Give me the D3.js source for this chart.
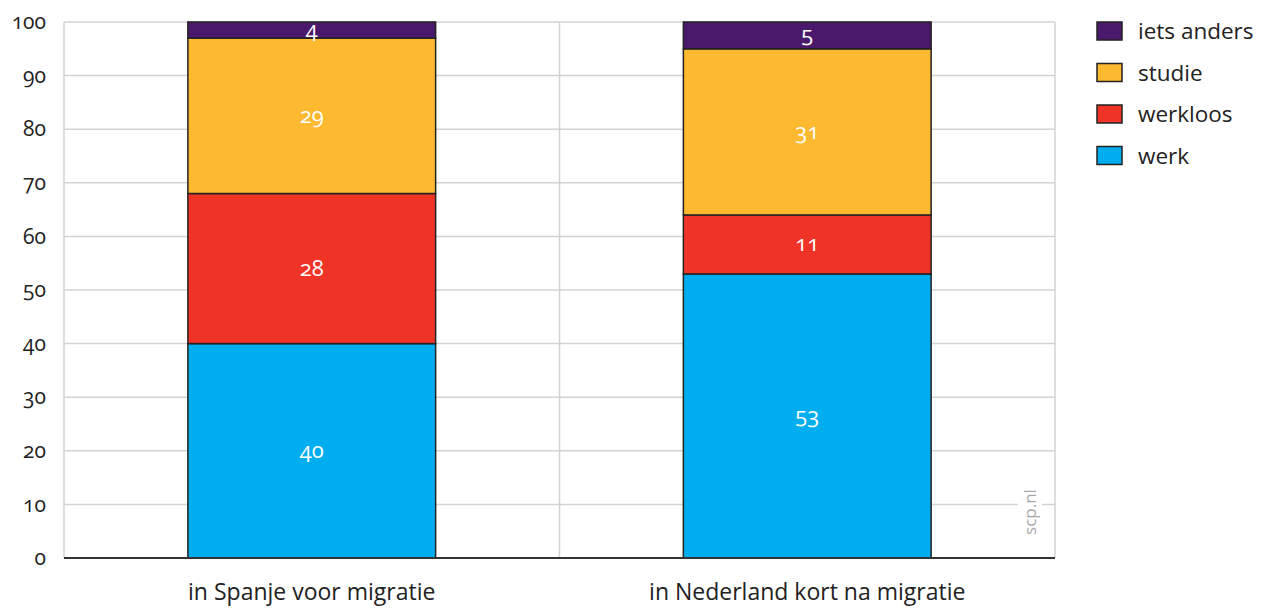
<!DOCTYPE html>
<html><head><meta charset="utf-8">
<script src="https://cdn.jsdelivr.net/npm/d3@7"></script>
<style>
body{margin:0;background:#fff;}
svg text{font-family:"Open Sans",Lato,sans-serif;font-variant-numeric:oldstyle-nums;}
</style></head>
<body><svg id="c" width="1266" height="612"></svg>
<script>
const categories = ["in Spanje voor migratie", "in Nederland kort na migratie"];
const seriesNames = ["werk", "werkloos", "studie", "iets anders"];
const werk = [40, 53];
const werkloos = [28, 11];
const studie = [29, 31];
const ietsAnders = [4, 5];
const yTicks = [0,10,20,30,40,50,60,70,80,90,100];
const colors = ["#00AEEF", "#EF3427", "#FDB92F", "#4B196B"];

const seriesVals = [werk, werkloos, studie, ietsAnders];
const rows = categories.map((c,i)=>{
  const r = {cat:c};
  seriesNames.forEach((s,j)=>r[s]=seriesVals[j][i]);
  return r;
});

const svg = d3.select("#c");
const m = {l:64, r:1055, t:22, b:558};
const x = d3.scaleBand().domain(categories).range([m.l, m.r]).paddingInner(0).paddingOuter(0);
const y = d3.scaleLinear().domain([0,100]).range([m.b, m.t]).clamp(true);

// gridlines
svg.append("g").selectAll("line").data(yTicks.filter(d=>d>0)).join("line")
  .attr("x1", m.l).attr("x2", m.r).attr("y1", d=>y(d)).attr("y2", d=>y(d))
  .attr("stroke", "#d3d3d3").attr("stroke-width", 1.5);
// vertical grid lines
const vx = [m.l, ...categories.slice(1).map(c=>x(c)), m.r];
svg.append("g").selectAll("line").data(vx).join("line")
  .attr("x1", d=>d).attr("x2", d=>d).attr("y1", m.t).attr("y2", m.b)
  .attr("stroke", "#d3d3d3").attr("stroke-width", 1.5);

// scp.nl
const sx = 1030, sy = 512;
svg.append("rect").attr("x", sx-12).attr("y", sy-32).attr("width", 24).attr("height", 64).attr("fill", "#fff");
svg.append("text").attr("transform", `translate(${sx+6},${sy}) rotate(-90)`)
  .attr("text-anchor", "middle").attr("font-size", 17).attr("fill", "#a8a8a8")
  .text("scp.nl");

// stacks
const stack = d3.stack().keys(seriesNames)(rows);
const bw = x.bandwidth()*0.5;
const g = svg.append("g");
stack.forEach((layer, j)=>{
  g.selectAll(null).data(layer).join("rect")
    .attr("x", d=>x(d.data.cat)+(x.bandwidth()-bw)/2)
    .attr("width", bw)
    .attr("y", d=>y(d[1]))
    .attr("height", d=>y(d[0])-y(d[1]))
    .attr("fill", colors[j]).attr("stroke", "#222").attr("stroke-width", 1.5);
});
stack.forEach((layer, j)=>{
  g.selectAll(null).data(layer).join("text")
    .attr("x", d=>x(d.data.cat)+x.bandwidth()/2)
    .attr("y", d=>(y(d[0])+y(d[1]))/2+7)
    .attr("text-anchor", "middle").attr("font-size", 22).attr("fill", "#fff")
    .text(d=>d.data[layer.key]);
});

// baseline
svg.append("line").attr("x1", m.l).attr("x2", m.r).attr("y1", m.b).attr("y2", m.b)
  .attr("stroke", "#333").attr("stroke-width", 2);

// y axis labels
const ya = svg.append("g").attr("transform", `translate(${m.l-18},0)`)
  .call(d3.axisLeft(y).tickValues(yTicks).tickSize(0).tickPadding(0));
ya.select(".domain").remove();
ya.selectAll("text").attr("font-size", 21).attr("fill", "#222")
  .attr("font-family", '"Open Sans",Lato,sans-serif');

// x axis labels
const xa = svg.append("g").attr("transform", `translate(0,${m.b})`)
  .call(d3.axisBottom(x).tickSize(0).tickPadding(26));
xa.select(".domain").remove();
xa.selectAll("text").attr("font-size", 23).attr("fill", "#222")
  .attr("font-family", '"Open Sans",Lato,sans-serif');

// legend
const leg = svg.append("g");
const legOrder = seriesNames.slice().reverse();
legOrder.forEach((s,i)=>{
  const yy = 22 + i*41.5;
  leg.append("rect").attr("x", 1097).attr("y", yy).attr("width", 25).attr("height", 18)
    .attr("fill", colors[seriesNames.indexOf(s)]).attr("stroke", "#222").attr("stroke-width", 1.5);
  leg.append("text").attr("x", 1138).attr("y", yy+17).attr("font-size", 22.5).attr("fill", "#222").text(s);
});
</script></body></html>
